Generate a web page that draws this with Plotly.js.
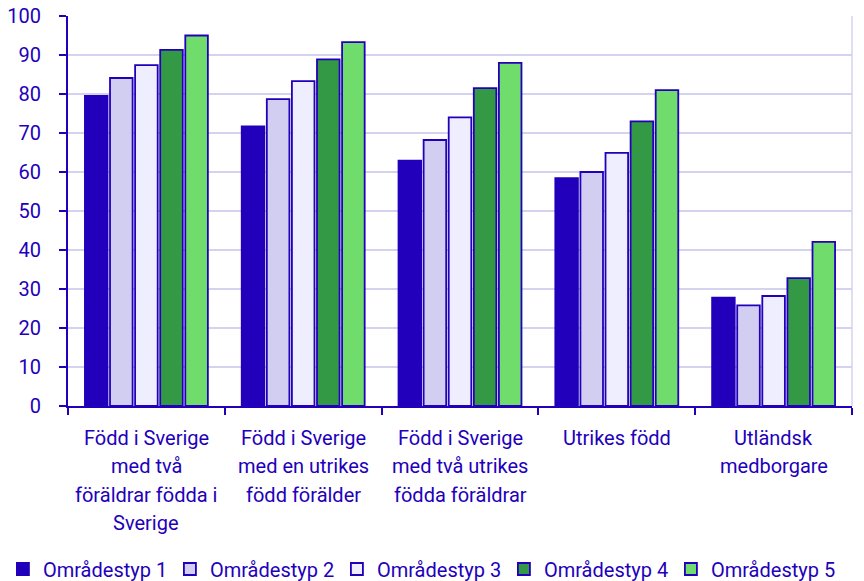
<!DOCTYPE html>
<html>
<head>
<meta charset="utf-8">
<script src="https://cdn.plot.ly/plotly-3.0.1.min.js"></script>
<style>html,body{margin:0;padding:0;background:#fff;}#chart{width:864px;height:581px;}</style>
</head>
<body>
<div id="chart"></div>
<script>
var categories = [
  "Född i Sverige med två föräldrar födda i Sverige",
  "Född i Sverige med en utrikes född förälder",
  "Född i Sverige med två utrikes födda föräldrar",
  "Utrikes född",
  "Utländsk medborgare"
];
var categoryLines = [
  ["Född i Sverige", "med två", "föräldrar födda i", "Sverige"],
  ["Född i Sverige", "med en utrikes", "född förälder"],
  ["Född i Sverige", "med två utrikes", "födda föräldrar"],
  ["Utrikes född"],
  ["Utländsk", "medborgare"]
];
var seriesNames = ["Områdestyp 1", "Områdestyp 2", "Områdestyp 3", "Områdestyp 4", "Områdestyp 5"];
var omr1 = [79.5, 71.7, 62.9, 58.4, 27.8];
var omr2 = [84.1, 78.7, 68.2, 60.0, 25.8];
var omr3 = [87.4, 83.3, 74.0, 64.9, 28.2];
var omr4 = [91.3, 88.9, 81.5, 73.0, 32.8];
var omr5 = [95.0, 93.3, 88.0, 81.0, 42.1];
var yTicks = [0, 10, 20, 30, 40, 50, 60, 70, 80, 90, 100];

var series = [omr1, omr2, omr3, omr4, omr5];
var fills = ["#2200BB", "#D2CEF2", "#EEEEFF", "#339944", "#70DC6B"];
var ink = "#2200BB";
var grid = "#D3D3F0";

var traces = series.map(function (vals, i) {
  return {
    type: "bar",
    name: seriesNames[i],
    x: categories,
    y: vals,
    marker: { color: fills[i], line: { color: ink, width: 1.8 } },
    hoverinfo: "x+y+name"
  };
});

var annotations = [];
categoryLines.forEach(function (lines, ci) {
  lines.forEach(function (t, li) {
    annotations.push({
      x: categories[ci], xref: "x", y: 0, yref: "y",
      text: t, showarrow: false, xanchor: "center", yanchor: "middle",
      yshift: -(32 + 28.3 * li),
      font: { family: "Roboto", size: 20, color: ink }
    });
  });
});

var layout = {
  width: 864, height: 581,
  margin: { l: 68, r: 12, t: 16, b: 175, autoexpand: false },
  paper_bgcolor: "#fff", plot_bgcolor: "#fff",
  font: { family: "Roboto", size: 20, color: ink },
  barmode: "group", bargap: 0.2, bargroupgap: 0.1,
  showlegend: true,
  legend: {
    orientation: "h", x: -0.083, xanchor: "left", y: -0.418, yanchor: "middle",
    font: { family: "Roboto", size: 20, color: ink },
    entrywidth: 122, entrywidthmode: "pixels",
    traceorder: "normal", itemclick: false
  },
  xaxis: {
    type: "category",
    showticklabels: false,
    tickson: "boundaries",
    ticks: "outside", ticklen: 7, tickwidth: 1.5, tickcolor: ink,
    showline: true, linecolor: ink, linewidth: 2,
    showgrid: false, zeroline: false, fixedrange: true
  },
  yaxis: {
    range: [0, 100], tickvals: yTicks,
    ticks: "outside", ticklen: 7, tickwidth: 1.5, tickcolor: ink,
    ticklabelstandoff: 14,
    tickfont: { family: "Roboto", size: 20, color: ink },
    showline: true, linecolor: ink, linewidth: 2,
    showgrid: true, gridcolor: grid, gridwidth: 1.5,
    zeroline: false, fixedrange: true
  },
  shapes: [
    { type: "line", xref: "paper", yref: "paper", x0: 1, x1: 1, y0: 0, y1: 1,
      line: { color: grid, width: 1.5 } }
  ],
  annotations: annotations
};

Plotly.newPlot("chart", traces, layout, { displayModeBar: false, staticPlot: false });
</script>
</body>
</html>
